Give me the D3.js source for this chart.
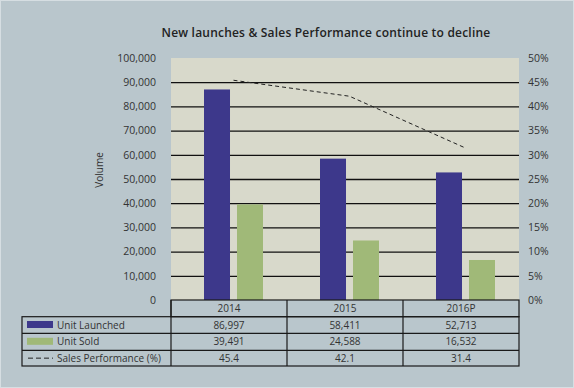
<!DOCTYPE html>
<html>
<head>
<meta charset="utf-8">
<script src="https://cdn.jsdelivr.net/npm/d3@7"></script>
<style>
  body { margin: 0; background: #b9c6cc; }
  svg { display: block; font-family: "Open Sans", "Lato", sans-serif; }
</style>
</head>
<body>
<svg id="chart" width="574" height="388"></svg>
<script>

// chart data
const categories = ["2014", "2015", "2016P"];
const unitLaunched = [86997, 58411, 52713];
const unitSold = [39491, 24588, 16532];
const salesPerf = [45.4, 42.1, 31.4];
const volumeTicks = [0, 10000, 20000, 30000, 40000, 50000, 60000, 70000, 80000, 90000, 100000];
const pctTicks = [0, 5, 10, 15, 20, 25, 30, 35, 40, 45, 50];
const seriesNames = ["Unit Launched", "Unit Sold", "Sales Performance (%)"];

const svg = d3.select("#chart");

const plotLeft = 171, plotRight = 519, plotTop = 58, plotBottom = 300;
const blue = "#3d388b", green = "#a0b978";

// outer frame
svg.append("rect")
   .attr("x", 0.5).attr("y", 0.5)
   .attr("width", 573).attr("height", 387)
   .attr("fill", "#b9c6cc")
   .attr("stroke", "#d6dee2");

svg.append("rect")
   .attr("x", plotLeft).attr("y", plotTop)
   .attr("width", plotRight - plotLeft).attr("height", plotBottom - plotTop)
   .attr("fill", "#d8d9cb");

var xScale = d3.scaleBand().domain(categories).range([plotLeft, plotRight]);
var subScale = d3.scaleBand().domain(["launched", "sold"]).range([33, 92]).paddingInner(0.212);
var yScale = d3.scaleLinear().domain([0, 100000]).range([plotBottom, plotTop]);
var yPct = d3.scaleLinear().domain([0, 50]).range([plotBottom, plotTop]);

// gridlines
svg.append("g")
   .attr("transform", `translate(${plotLeft},0)`)
   .call(d3.axisLeft(yScale).tickValues(volumeTicks.slice(1, -1)).tickSize(-(plotRight - plotLeft)).tickFormat(""))
   .call(g => g.select(".domain").remove())
   .selectAll("line").attr("stroke", "#111").attr("stroke-width", 1.3);

// left axis
svg.append("g")
   .attr("transform", `translate(156,0)`)
   .call(d3.axisLeft(yScale).tickValues(volumeTicks).tickSize(0).tickPadding(0).tickFormat(d3.format(",")))
   .call(g => g.select(".domain").remove())
   .selectAll("text")
   .attr("font-size", 10.5).attr("fill", "#333").attr("font-family", "Open Sans, sans-serif");

// right axis
svg.append("g")
   .attr("transform", `translate(528,0)`)
   .call(d3.axisRight(yPct).tickValues(pctTicks).tickSize(0).tickPadding(0).tickFormat(d => d + "%"))
   .call(g => g.select(".domain").remove())
   .selectAll("text")
   .attr("font-size", 10.5).attr("fill", "#333").attr("font-family", "Open Sans, sans-serif");

svg.append("text")
   .attr("transform", "translate(103,170) rotate(-90)")
   .attr("text-anchor", "middle")
   .attr("font-size", 10)
   .attr("fill", "#333")
   .text("Volume");

// bars
svg.selectAll(".bar-launched")
   .data(unitLaunched)
   .enter()
   .append("rect")
   .attr("class", "bar-launched")
   .attr("x", (d, i) => xScale(categories[i]) + subScale("launched"))
   .attr("width", subScale.bandwidth())
   .attr("y", d => yScale(d))
   .attr("height", d => plotBottom - yScale(d))
   .attr("fill", blue);

svg.selectAll(".bar-sold")
   .data(unitSold)
   .enter()
   .append("rect")
   .attr("class", "bar-sold")
   .attr("x", (d, i) => xScale(categories[i]) + subScale("sold"))
   .attr("width", subScale.bandwidth())
   .attr("y", d => yScale(d))
   .attr("height", d => plotBottom - yScale(d))
   .attr("fill", green);

// sales performance line
var line = d3.line()
             .x((d, i) => xScale(categories[i]) + (subScale.range()[0] + subScale.range()[1]) / 2)
             .y(d => yPct(d));

svg.append("path")
   .datum(salesPerf)
   .attr("d", line)
   .attr("fill", "none")
   .attr("stroke", "#222")
   .attr("stroke-width", 1)
   .attr("stroke-dasharray", "4 3");

// title
svg.append("text")
   .attr("x", 326).attr("y", 37)
   .attr("text-anchor", "middle")
   .attr("font-size", 12)
   .attr("font-weight", 600)
   .attr("letter-spacing", 0.2)
   .attr("fill", "#222")
   .text("New launches & Sales Performance continue to decline");

// data table
const tableLeft = 22;
const rowY = [300, 316.7, 333.3, 350.3, 366];
const table = svg.append("g").attr("fill", "none").attr("stroke", "#1a1a1a").attr("stroke-width", 1.2);

// header row only spans the category columns
table.append("rect").attr("x", plotLeft).attr("y", rowY[0]).attr("width", plotRight - plotLeft).attr("height", rowY[1] - rowY[0]);
table.append("rect").attr("x", tableLeft).attr("y", rowY[1]).attr("width", plotRight - tableLeft).attr("height", rowY[4] - rowY[1]);
rowY.slice(2, 4).forEach(y => {
    table.append("line").attr("x1", tableLeft).attr("x2", plotRight).attr("y1", y).attr("y2", y);
});
categories.forEach(c => {
    table.append("line").attr("x1", xScale(c)).attr("x2", xScale(c)).attr("y1", rowY[0]).attr("y2", rowY[4]);
});

const cellText = svg.append("g").attr("font-size", 10).attr("fill", "#333").attr("text-anchor", "middle");

cellText.selectAll(".cat")
   .data(categories)
   .enter()
   .append("text")
   .attr("x", d => xScale(d) + xScale.bandwidth() / 2)
   .attr("y", (rowY[0] + rowY[1]) / 2 + 3.5)
   .text(d => d);

const rows = [
    unitLaunched.map(d3.format(",")),
    unitSold.map(d3.format(",")),
    salesPerf.map(d => d.toFixed(1))
];

rows.forEach((vals, r) => {
    cellText.selectAll(".row" + r)
       .data(vals)
       .enter()
       .append("text")
       .attr("x", (d, i) => xScale(categories[i]) + xScale.bandwidth() / 2)
       .attr("y", (rowY[r + 1] + rowY[r + 2]) / 2 + 3.5)
       .text(d => d);
});

// legend keys in the first column
seriesNames.forEach((name, r) => {
    var cy = (rowY[r + 1] + rowY[r + 2]) / 2;
    if (r < 2) {
        svg.append("rect")
           .attr("x", 27).attr("y", cy - 4)
           .attr("width", 26).attr("height", 7)
           .attr("fill", r == 0 ? blue : green);
    }
    else {
        svg.append("line")
           .attr("x1", 28).attr("x2", 53)
           .attr("y1", cy).attr("y2", cy)
           .attr("stroke", "#222")
           .attr("stroke-dasharray", "5 3");
    }
    svg.append("text")
       .attr("x", 57).attr("y", cy + 3.5)
       .attr("font-size", 10)
       .attr("fill", "#333")
       .text(name);
});

</script>
</body>
</html>
